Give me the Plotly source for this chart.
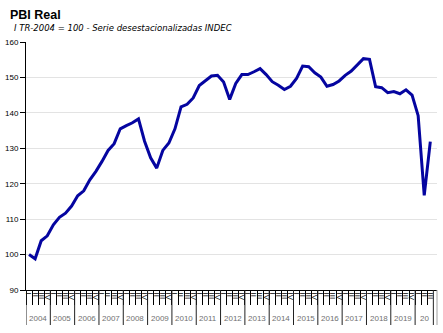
import plotly.graph_objects as go

years = ["2004", "2005", "2006", "2007", "2008", "2009", "2010", "2011", "2012",
         "2013", "2014", "2015", "2016", "2017", "2018", "2019", "20"]
quarters = ["I", "II", "III", "IV"]
pbi = [100.0, 98.8, 103.9, 105.3, 108.4, 110.5, 111.7, 113.7, 116.6, 118.0,
       121.1, 123.5, 126.3, 129.4, 131.3, 135.5, 136.4, 137.2, 138.3, 132.0,
       127.3, 124.4, 129.4, 131.5, 135.5, 141.7, 142.4, 144.2, 147.7, 149.0,
       150.4, 150.6, 148.7, 143.8, 148.3, 150.8, 150.8, 151.6, 152.5, 150.8,
       148.8, 147.8, 146.6, 147.5, 149.7, 153.2, 153.0, 151.3, 150.1, 147.5,
       148.0, 149.0, 150.6, 151.8, 153.7, 155.3, 155.1, 147.4, 147.1, 145.7,
       146.0, 145.4, 146.5, 145.0, 139.2, 116.7, 131.9]

n = len(pbi)
idx = list(range(n))
qlabels = [quarters[i % 4] for i in idx]

PLOT_H = 333 - 42 - 43

fig = go.Figure()
fig.add_trace(go.Scatter(x=idx, y=pbi, mode="lines",
                         line=dict(color="#0505A0", width=3)))

# year dividers and labels
for k, yr in enumerate(years):
    start = k * 4 - 0.5
    end = min(k * 4 + 4, n) - 0.5
    fig.add_shape(type="line", xref="x", yref="paper", x0=start, x1=start,
                  y0=0, y1=-35 / PLOT_H, line=dict(color="#222222", width=1))
    fig.add_annotation(text=yr, xref="x", yref="paper", x=(start + end) / 2,
                       y=-28 / PLOT_H, xanchor="center", yanchor="middle",
                       showarrow=False,
                       font=dict(size=8, color="#707070", family="Liberation Sans"))
last = n - 0.5
fig.add_shape(type="line", xref="x", yref="paper", x0=last, x1=last,
              y0=0, y1=-35 / PLOT_H, line=dict(color="#222222", width=1))
fig.add_shape(type="line", xref="paper", yref="paper", x0=1, x1=1,
              y0=0, y1=-35 / PLOT_H, line=dict(color="#A0A0A0", width=1))

fig.add_annotation(text="<b>PBI Real</b>", xref="paper", yref="paper",
                   x=-18 / 411, y=1 + 27 / PLOT_H, xanchor="left", yanchor="middle",
                   showarrow=False, font=dict(size=12.5, family="Liberation Sans"))
fig.add_annotation(text="<i>I TR-2004 = 100 - Serie desestacionalizadas INDEC</i>",
                   xref="paper", yref="paper",
                   x=-14 / 411, y=1 + 14.5 / PLOT_H, xanchor="left", yanchor="middle",
                   showarrow=False, font=dict(size=8.5, family="DejaVu Sans"))

fig.update_layout(
    width=443, height=333,
    margin=dict(l=26, r=6, t=42, b=43),
    paper_bgcolor="white", plot_bgcolor="white",
    showlegend=False,
    font=dict(family="Liberation Sans", size=8, color="black"),
)

fig.update_yaxes(range=[90, 160], dtick=10, showline=True, linecolor="black",
                 linewidth=1, ticks="outside", ticklen=5, tickcolor="black",
                 showgrid=True, gridcolor="#E3E3E3", gridwidth=1, zeroline=False,
                 tickfont=dict(size=8, family="Liberation Sans"))
fig.update_xaxes(range=[-0.5, 67.1], showline=True, linecolor="black",
                 linewidth=1, ticks="", showgrid=False, zeroline=False,
                 tickmode="array", tickvals=idx, ticktext=qlabels,
                 tickangle=90, tickfont=dict(size=8, color="black",
                                             family="Liberation Sans"),
                 minor=dict(tickmode="array", tickvals=[i - 0.5 for i in idx],
                            ticks="outside", ticklen=14, tickcolor="black",
                            showgrid=False))

fig.write_html("out.html")
